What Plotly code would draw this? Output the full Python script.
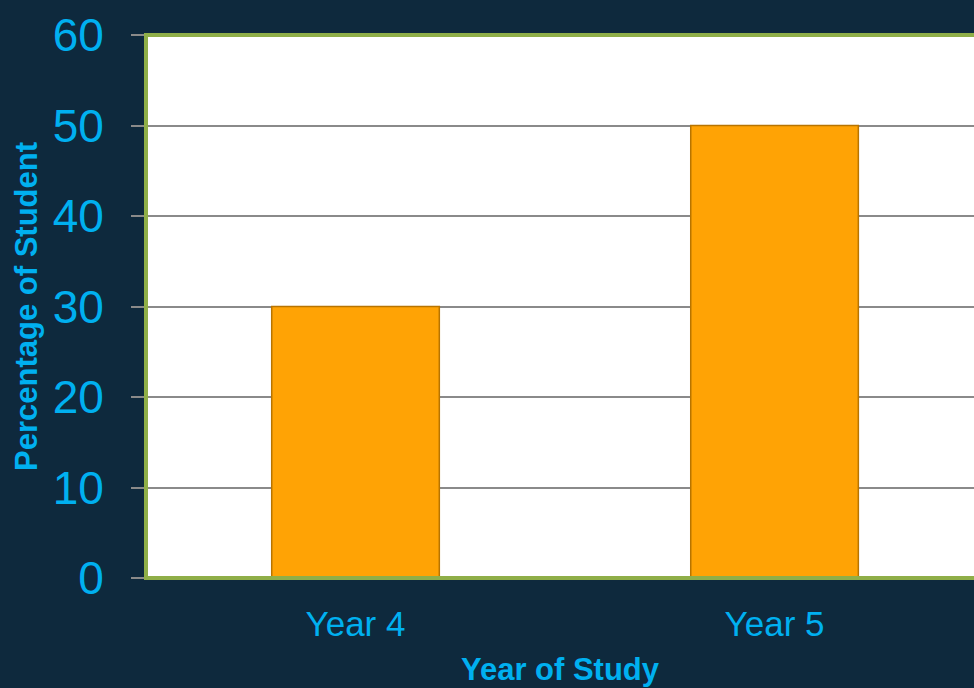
import plotly.graph_objects as go

categories = ["Year 4", "Year 5"]
values = [30, 50]
y_ticks = [0, 10, 20, 30, 40, 50, 60]

BG = "#0e293d"
BLUE = "#00b0f0"
GREEN = "#8fae48"
GRID = "#8a8a8a"

fig = go.Figure()
fig.add_trace(go.Bar(
    x=categories, y=values,
    marker=dict(color="#ffa305", line=dict(color="#b87400", width=1.5)),
    width=0.4,
))

fig.update_layout(
    width=974, height=688,
    paper_bgcolor=BG, plot_bgcolor="white",
    margin=dict(l=146, r=0, t=35, b=110),
    showlegend=False,
    font=dict(family="Arial, Liberation Sans, sans-serif", color=BLUE),
    shapes=[dict(type="rect", xref="paper", yref="paper", x0=0, x1=1.01, y0=0, y1=1,
                 line=dict(color=GREEN, width=4), layer="above")],
)
fig.update_xaxes(
    range=[-0.5, 1.476],
    tickfont=dict(size=35, color=BLUE),
    showline=True, linecolor=GRID, linewidth=2,
    showgrid=False, ticks="",
    ticklabelstandoff=14,
    title=dict(text="<b>Year of Study</b>", font=dict(size=31, color=BLUE), standoff=16),
)
fig.update_yaxes(
    range=[0, 60], tickvals=y_ticks,
    tickfont=dict(size=46, color=BLUE),
    showgrid=True, gridcolor=GRID, gridwidth=2,
    zeroline=False,
    ticks="outside", ticklen=14, tickcolor=GRID, tickwidth=2,
    ticklabelstandoff=18,
    title=dict(text="<b>Percentage of Student</b>", font=dict(size=31, color=BLUE), standoff=5),
)

fig.write_html("out.html")
